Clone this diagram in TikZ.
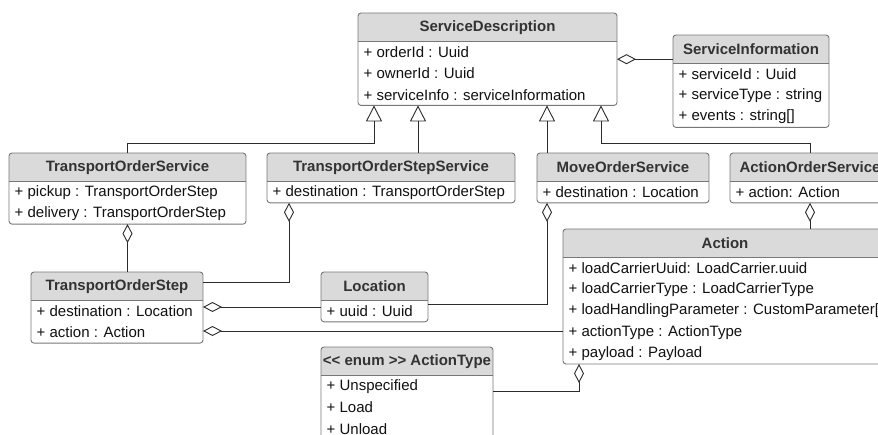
\documentclass[tikz,border=0pt]{standalone}
\usepackage{fontspec}
\newfontfamily\umlfont{Liberation Sans}
\usetikzlibrary{arrows.meta,calc}

\definecolor{headgray}{HTML}{DADADA}
\definecolor{boxgray}{HTML}{777777}
\definecolor{linedark}{HTML}{2B2B2B}
\definecolor{titlegray}{HTML}{333333}
\definecolor{rowblack}{HTML}{111111}

\tikzset{
  classbox/.style={fill=white, rounded corners=3pt, inner sep=0pt, outer sep=0pt},
  boxborder/.style={draw=boxgray, line width=0.9pt, rounded corners=3pt},
  titletext/.style={font=\umlfont\fontsize{15}{18}\selectfont\bfseries, text=titlegray, inner sep=0pt},
  rowtext/.style={font=\umlfont\fontsize{15}{18}\selectfont, text=rowblack, inner sep=0pt, anchor=west},
  gen/.style={draw=linedark, line width=0.9pt, -{Triangle[fill=white, length=16pt, width=16pt]}},
  agg/.style={draw=linedark, line width=0.9pt, {Diamond[fill=white, length=19pt, width=10pt]}-},
}

% #1 name, #2 left, #3 top, #4 width, #5 number of rows, #6 title
\newcommand{\umlclass}[6]{%
  \node[classbox, minimum width=#4pt, minimum height={28.5pt+#5*21.3pt}, anchor=north west] (#1) at (#2,#3) {};
  \begin{scope}
    \clip[rounded corners=3pt] (#1.north west) rectangle (#1.south east);
    \fill[headgray] (#1.north west) rectangle ($(#1.north east)+(0,28.5)$);
  \end{scope}
  \draw[boxgray, line width=0.9pt] ($(#1.north west)+(0,28.5)$) -- ($(#1.north east)+(0,28.5)$);
  \draw[boxborder] (#1.north west) rectangle (#1.south east);
  \node[titletext] (#1-t) at ($(#1.north)+(0,14.5)$) {#6};
}
% #1 class name, #2 row index, #3 text
\newcommand{\umlrow}[3]{%
  \node[rowtext] (#1-r#2) at ($(#1.north west)+(5.5,{39.3+(#2-1)*21.3})$) {#3};
}

\begin{document}
\begin{tikzpicture}[x=1pt, y=-1pt]
\useasboundingbox (0,0) rectangle (878,434);
\clip (0,0) rectangle (878,434);

% classes
\umlclass{SD}{358}{13}{259}{3}{ServiceDescription}
\umlrow{SD}{1}{+ orderId : Uuid}
\umlrow{SD}{2}{+ ownerId : Uuid}
\umlrow{SD}{3}{+ serviceInfo : serviceInformation}

\umlclass{SI}{673}{35}{156}{3}{ServiceInformation}
\umlrow{SI}{1}{+ serviceId : Uuid}
\umlrow{SI}{2}{+ serviceType : string}
\umlrow{SI}{3}{+ events : string[]}

\umlclass{TOS}{9}{153}{237}{2}{TransportOrderService}
\umlrow{TOS}{1}{+ pickup : TransportOrderStep}
\umlrow{TOS}{2}{+ delivery : TransportOrderStep}

\umlclass{TOSS}{267}{153}{248}{1}{TransportOrderStepService}
\umlrow{TOSS}{1}{+ destination : TransportOrderStep}

\umlclass{MOS}{537}{153}{172}{1}{MoveOrderService}
\umlrow{MOS}{1}{+ destination : Location}

\umlclass{AOS}{730}{153}{160}{1}{ActionOrderService}
\umlrow{AOS}{1}{+ action: Action}

\umlclass{TOStep}{31}{272}{172}{2}{TransportOrderStep}
\umlrow{TOStep}{1}{+ destination : Location}
\umlrow{TOStep}{2}{+ action : Action}

\umlclass{Loc}{321}{272}{107}{1}{Location}
\umlrow{Loc}{1}{+ uuid : Uuid}

\umlclass{Act}{563}{229}{324}{5}{Action}
\umlrow{Act}{1}{+ loadCarrierUuid: LoadCarrier.uuid}
\umlrow{Act}{2}{+ loadCarrierType : LoadCarrierType}
\umlrow{Act}{3}{+ loadHandlingParameter : CustomParameter[]}
\umlrow{Act}{4}{+ actionType : ActionType}
\umlrow{Act}{5}{+ payload : Payload}

\umlclass{AT}{321}{347}{172}{3}{{<}{<} enum {>}{>} ActionType}
\umlrow{AT}{1}{+ Unspecified}
\umlrow{AT}{2}{+ Load}
\umlrow{AT}{3}{+ Unload}

% generalizations
\draw[gen] (TOS.north) -- ++(0,-10) -| ($(SD.south west)+(16,0)$);
\draw[gen] ($(TOSS.north west)+(151,0)$) -- ($(SD.south west)+(60,0)$);
\draw[gen] ($(MOS.north west)+(10,0)$) -- ($(SD.south west)+(189,0)$);
\draw[gen] (AOS.north) -- ++(0,-10) -| ($(SD.south east)+(-16,0)$);

% aggregations
\draw[agg] (SD.east) -- (SD.east -| SI.west);
\draw[agg] (TOS.south) -- (TOS.south |- TOStep.north);
\draw[agg] ($(TOSS.south west)+(22,0)$) |- ($(TOStep.north east)+(0,10)$);
\draw[agg] ($(MOS.south west)+(10,0)$) |- ($(Loc.north east)+(0,32)$);
\coordinate (tsl) at ($(TOStep.north east)+(0,35)$);
\coordinate (tsa) at ($(TOStep.north east)+(0,59)$);
\draw[agg] (tsl) -- (tsl -| Loc.west);
\draw[agg] (tsa) -- (tsa -| Act.west);
\draw[agg] (AOS.south) -- (AOS.south |- Act.north);
\draw[agg] ($(Act.south west)+(16,0)$) |- ($(AT.north east)+(0,44)$);
\end{tikzpicture}
\end{document}
